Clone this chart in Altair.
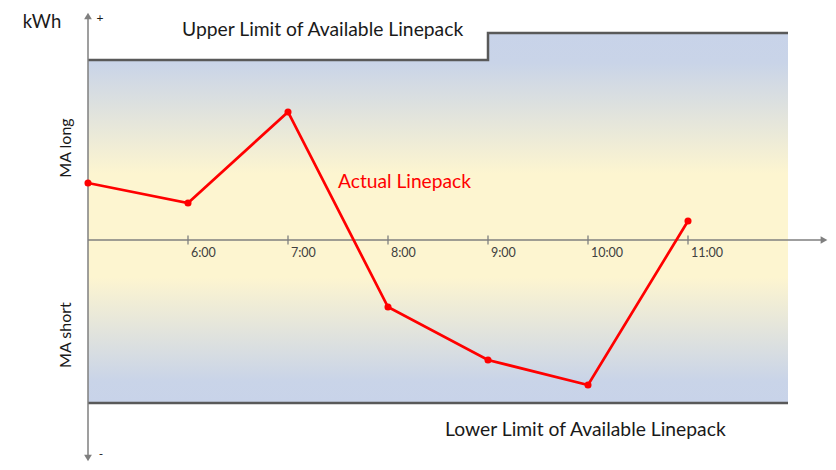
import altair as alt
import pandas as pd

# ---- data ----
hours = [5, 6, 7, 8, 9, 10, 11]
linepack = [5.7, 3.7, 12.8, -6.7, -12.0, -14.5, 1.9]

limit_hours = [5, 9, 12]
upper_limit = [18.0, 20.7, 20.7]
lower_limit = -16.3

tick_hours = [6, 7, 8, 9, 10, 11]
tick_labels = ["6:00", "7:00", "8:00", "9:00", "10:00", "11:00"]

FONT = "Lato"
W, H = 820, 454
xs = alt.Scale(domain=[4.2, 12.4], nice=False, zero=False)
ys = alt.Scale(domain=[-22.2, 23.2], nice=False, zero=False)


def X(f="x"):
    return alt.X(f"{f}:Q", scale=xs, axis=None)


def Y(f="y"):
    return alt.Y(f"{f}:Q", scale=ys, axis=None)


band_df = pd.DataFrame({"x": limit_hours, "upper": upper_limit,
                        "lower": [lower_limit] * len(limit_hours)})

grad = alt.Gradient(
    gradient="linear", x1=0, y1=0, x2=0, y2=1,
    stops=[
        alt.GradientStop(color="#c8d3e9", offset=0.0),
        alt.GradientStop(color="#c9d4e8", offset=0.08),
        alt.GradientStop(color="#fdf5d0", offset=0.38),
        alt.GradientStop(color="#fdf5d0", offset=0.66),
        alt.GradientStop(color="#c9d4e8", offset=0.94),
        alt.GradientStop(color="#c8d3e9", offset=1.0),
    ],
)

band = alt.Chart(band_df).mark_area(interpolate="step-after", color=grad).encode(
    x=X(), y=Y("upper"), y2="lower:Q")

upper_line = alt.Chart(band_df).mark_line(
    interpolate="step-after", color="#595959", strokeWidth=2.5).encode(
    x=X(), y=Y("upper"))

lower_df = pd.DataFrame({"x": [limit_hours[0], limit_hours[-1]],
                         "y": [lower_limit, lower_limit]})
lower_line = alt.Chart(lower_df).mark_line(color="#595959", strokeWidth=2.5).encode(
    x=X(), y=Y())

# axes (drawn as marks)
AX = "#7f7f7f"
yaxis_df = pd.DataFrame({"x": [5], "y": [-21.8], "y2": [22.4]})
yaxis = alt.Chart(yaxis_df).mark_rule(color=AX, strokeWidth=1.5).encode(
    x=X(), y=Y(), y2="y2:Q")
xaxis_df = pd.DataFrame({"x": [5], "x2": [12.36], "y": [0]})
xaxis = alt.Chart(xaxis_df).mark_rule(color=AX, strokeWidth=1.5).encode(
    x=X(), x2="x2:Q", y=Y())

arrows_df = pd.DataFrame({"x": [5, 5, 12.36], "y": [22.4, -21.8, 0],
                          "shape": ["triangle-up", "triangle-down", "triangle-right"]})
arrows = alt.Chart(arrows_df).mark_point(filled=True, color=AX, opacity=1, size=60).encode(
    x=X(), y=Y(), shape=alt.Shape("shape:N", scale=None, legend=None))

ticks_df = pd.DataFrame({"x": tick_hours, "y": [0.45] * 6, "y2": [-0.45] * 6,
                         "label": tick_labels, "y0": [0] * 6})
ticks = alt.Chart(ticks_df).mark_rule(color=AX, strokeWidth=1.3).encode(
    x=X(), y=Y(), y2="y2:Q")
tick_text = alt.Chart(ticks_df).mark_text(
    align="left", baseline="middle", dx=3, dy=12.5, font=FONT, fontSize=12.5,
    color="#404040").encode(x=X(), y=Y("y0"), text="label:N")

# actual linepack
lp_df = pd.DataFrame({"x": hours, "y": linepack})
lp_line = alt.Chart(lp_df).mark_line(color="#ff0000", strokeWidth=2.7).encode(
    x=X(), y=Y())
lp_pts = alt.Chart(lp_df).mark_circle(color="#ff0000", opacity=1, size=50).encode(
    x=X(), y=Y())

# texts
labels_df = pd.DataFrame({
    "x": [5.94, 8.57],
    "y": [21.0, -19.0],
    "t": ["Upper Limit of Available Linepack", "Lower Limit of Available Linepack"],
})
limit_text = alt.Chart(labels_df).mark_text(
    align="left", baseline="middle", font=FONT, fontSize=19.3, color="#1a1a1a").encode(
    x=X(), y=Y(), text="t:N")

actual_df = pd.DataFrame({"x": [7.50], "y": [5.8], "t": ["Actual Linepack"]})
actual_text = alt.Chart(actual_df).mark_text(
    align="left", baseline="middle", font=FONT, fontSize=19.2, color="#ff0000").encode(
    x=X(), y=Y(), text="t:N")

kwh_df = pd.DataFrame({"x": [4.54], "y": [21.8], "t": ["kWh"]})
kwh_text = alt.Chart(kwh_df).mark_text(
    align="center", baseline="middle", font=FONT, fontSize=18.5, color="#1a1a1a").encode(
    x=X(), y=Y(), text="t:N")

ma_df = pd.DataFrame({"x": [4.78, 4.78], "y": [9.2, -9.5], "t": ["MA long", "MA short"]})
ma_text = alt.Chart(ma_df).mark_text(
    align="center", baseline="middle", angle=270, font=FONT, fontSize=16,
    color="#1a1a1a").encode(x=X(), y=Y(), text="t:N")

plus_df = pd.DataFrame({"x": [5.12], "y": [22.75], "t": ["+"]})
plus_text = alt.Chart(plus_df).mark_text(
    align="center", baseline="top", font=FONT, fontSize=12, color="#1a1a1a").encode(
    x=X(), y=Y(), text="t:N")
minus_df = pd.DataFrame({"x": [5.13], "y": [-22.1], "t": ["-"]})
minus_text = alt.Chart(minus_df).mark_text(
    align="center", baseline="bottom", font=FONT, fontSize=12, color="#1a1a1a").encode(
    x=X(), y=Y(), text="t:N")

chart = alt.layer(
    band, upper_line, lower_line, xaxis, ticks, yaxis, arrows, tick_text,
    lp_line, lp_pts, limit_text, actual_text, kwh_text, ma_text, plus_text, minus_text,
).properties(
    width=W, height=H, padding=0, autosize=alt.AutoSizeParams(type="none"),
    background="white",
).configure_view(stroke=None)

chart.save("out.html", embed_options={"renderer": "svg", "actions": False})
